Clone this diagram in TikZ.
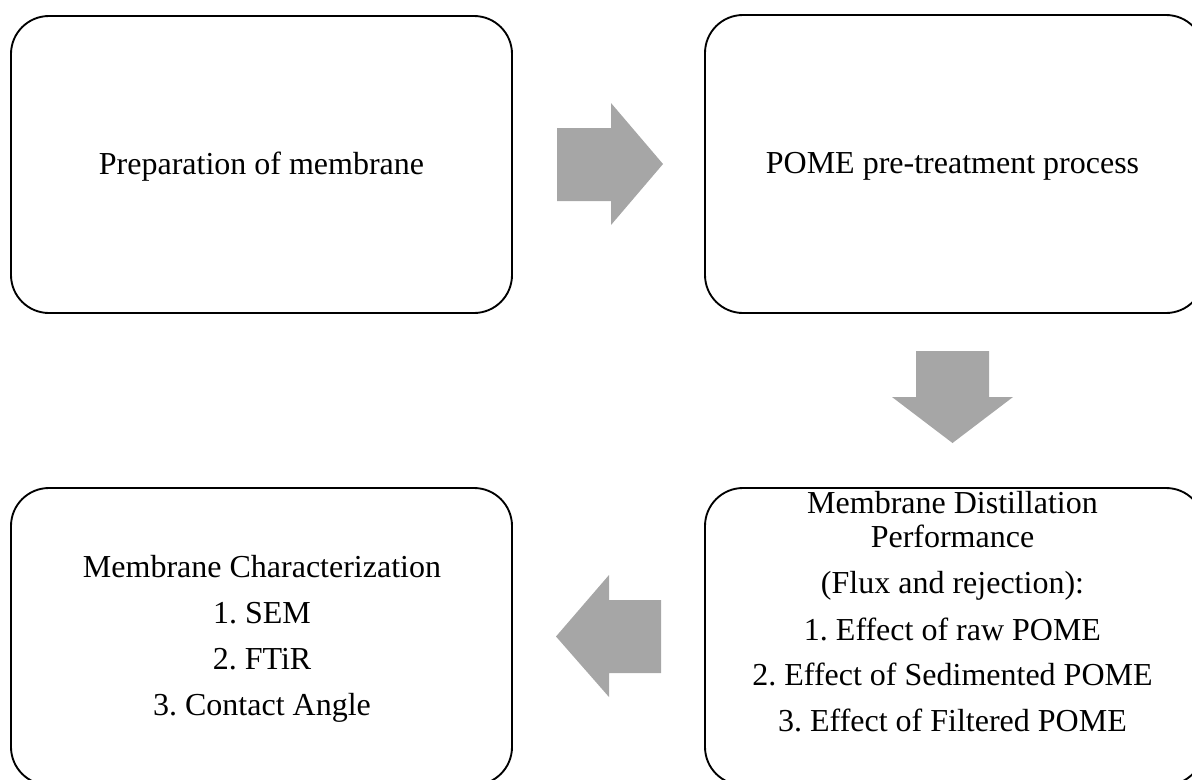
\documentclass[tikz,border=0pt]{standalone}
\usepackage{fontspec}
\setmainfont{Liberation Serif}
\definecolor{arrowgray}{RGB}{166,166,166}
\begin{document}
\frenchspacing
\begin{tikzpicture}[x=0.75pt,y=-0.75pt,
  stepbox/.style={draw=black,line width=1.4pt,rounded corners=28.5pt,fill=white},
  txt/.style={anchor=base,inner sep=0pt,font=\fontsize{24}{28}\selectfont},
  blockarrow/.style={fill=arrowgray,draw=none}]
\useasboundingbox (0,0) rectangle (1192,779);
\clip (0,0) rectangle (1192,779);
% boxes
\draw[stepbox] (11,16) rectangle (512,313);
\draw[stepbox] (705,15) rectangle (1204,313);
\draw[stepbox] (11,488) rectangle (512,785);
\draw[stepbox] (705,488) rectangle (1204,785);
% box 1
\node[txt] (t1) at (261.5,174) {Preparation of membrane};
% box 2
\node[txt] (t2) at (952.5,173.5) {POME pre-treatment process};
% box 3
\node[txt] (t3a) at (262,577) {Membrane Characterization};
\node[txt] (t3b) at (262,623.5) {1. SEM};
\node[txt] (t3c) at (262,669.5) {2. FTiR};
\node[txt] (t3d) at (262,715) {3. Contact Angle};
% box 4
\node[txt] (t4a) at (952.5,513) {Membrane Distillation};
\node[txt] (t4b) at (952.5,547) {Performance};
\node[txt] (t4c) at (952.5,593) {(Flux and rejection):};
\node[txt] (t4d) at (952.5,640) {1. Effect of raw POME};
\node[txt] (t4e) at (952.5,685.5) {2. Effect of Sedimented POME};
\node[txt] (t4f) at (952.5,731.5) {3. Effect of Filtered POME};
% block arrows
\fill[blockarrow] (557,128) -- (611,128) -- (611,103) -- (663,164) -- (611,225) -- (611,201) -- (557,201) -- cycle;
\fill[blockarrow] (916,351) -- (989,351) -- (989,397) -- (1013,397) -- (952.5,443) -- (892,397) -- (916,397) -- cycle;
\fill[blockarrow] (661,600) -- (609,600) -- (609,575) -- (556,636.5) -- (609,697) -- (609,673) -- (661,673) -- cycle;
\end{tikzpicture}
\end{document}
